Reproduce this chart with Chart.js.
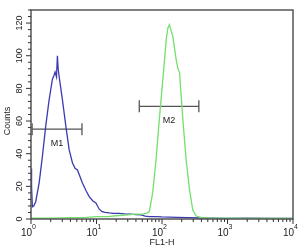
<!DOCTYPE html>
<html>
<head>
<meta charset="utf-8">
<script src="https://cdn.jsdelivr.net/npm/chart.js@4/dist/chart.umd.min.js"></script>
<style>
  html, body { margin: 0; padding: 0; background: #fff; }
  #wrap { width: 304px; height: 250px; position: relative; }
</style>
</head>
<body>
<div id="wrap"><canvas id="myChart"></canvas></div>
<script>
// blue histogram (control)
const blueX = [1.0, 1.02, 1.05, 1.1, 1.18, 1.33, 1.49, 1.68, 1.89, 2.12, 2.25, 2.33, 2.45, 2.53, 2.6, 2.68, 3.02, 3.4, 3.82, 4.29, 4.7, 5.12, 6.1, 7.0, 7.73, 8.8, 9.8, 11, 12.2, 13.5, 15.6, 18, 22, 27, 33, 40, 48, 55, 65, 80, 100, 130, 170, 250, 400, 600, 1000, 2000, 5000, 10000];
const blueY = [31, 20, 7.5, 8, 10.6, 22, 38, 57, 73, 85.5, 88, 90, 87, 100, 92, 87.6, 73, 57, 42.5, 34.5, 31, 30, 22, 17, 13.7, 11, 9.8, 6, 4.5, 4, 3.7, 3.5, 3.5, 3.2, 3, 2.7, 2.5, 1.8, 1.5, 1.5, 1.3, 1.2, 1, 0.8, 0.6, 0.5, 0.4, 0.5, 0.3, 0.3];

// green histogram (stained)
const greenX = [1, 2, 4, 7, 10, 15, 20, 30, 40, 50, 58, 64, 72, 81, 91, 103, 116, 123, 130, 138, 146, 155, 164, 175, 185, 208, 234, 263, 295, 332, 400, 600, 1000, 2000, 5000, 10000];
const greenY = [0.5, 0.5, 0.8, 1, 1.5, 1.5, 2, 2.5, 3, 3, 3.5, 4.5, 16, 36, 61, 85.5, 110, 117, 119, 115, 112, 105, 98, 92, 90, 61, 36, 18, 5.5, 1.8, 0.8, 0.5, 0.5, 0.4, 0.3, 0.3];

// gates
const markerNames = ["M1", "M2"];
const markerFrom = [1.04, 45];
const markerTo = [6.0, 365];
const markerLevel = [55, 69];

const xMajor = [1, 10, 100, 1000, 10000];
const yMajor = [0, 20, 40, 60, 80, 100, 120];

const pts = (xs, ys) => xs.map((x, i) => ({ x: x, y: ys[i] }));

const datasets = [
  { data: pts(greenX, greenY), borderColor: "#72e06c", borderWidth: 1.3, pointRadius: 0, tension: 0 },
  { data: pts(blueX, blueY), borderColor: "#3b3bb0", borderWidth: 1.3, pointRadius: 0, tension: 0 }
];
markerNames.forEach((n, i) => {
  datasets.push({
    data: [{ x: markerFrom[i], y: markerLevel[i] }, { x: markerTo[i], y: markerLevel[i] }],
    borderColor: "#555", borderWidth: 1.3,
    pointStyle: "line", pointRotation: 90, pointRadius: 6,
    pointBorderColor: "#555", pointBorderWidth: 1.3
  });
});

const frame = {
  id: "frame",
  afterDraw(chart) {
    const ctx = chart.ctx;
    const a = chart.chartArea;
    const xs = chart.scales.x, ys = chart.scales.y;
    ctx.save();
    ctx.strokeStyle = "#555";
    ctx.lineWidth = 1.5;
    ctx.strokeRect(a.left, a.top, a.right - a.left, a.bottom - a.top);

    ctx.lineWidth = 1;
    ctx.strokeStyle = "#333";
    ctx.beginPath();
    xs.ticks.forEach(t => {
      const p = xs.getPixelForValue(t.value);
      const major = xMajor.includes(t.value);
      ctx.moveTo(p, a.bottom);
      ctx.lineTo(p, a.bottom + (major ? 5 : 3));
    });
    ys.ticks.forEach(t => {
      const p = ys.getPixelForValue(t.value);
      const major = yMajor.includes(t.value);
      ctx.moveTo(a.left, p);
      ctx.lineTo(a.left - (major ? 5 : 3), p);
    });
    ctx.stroke();

    ctx.fillStyle = "#222";
    // y labels, rotated
    ctx.font = "9px 'Liberation Sans', Arial, sans-serif";
    ctx.textAlign = "center";
    ctx.textBaseline = "middle";
    yMajor.forEach(v => {
      const p = ys.getPixelForValue(v);
      ctx.save();
      ctx.translate(a.left - 11, p);
      ctx.rotate(-Math.PI / 2);
      ctx.fillText(String(v), 0, 0);
      ctx.restore();
    });
    // x labels 10^n
    xMajor.forEach((v, i) => {
      const p = xs.getPixelForValue(v);
      ctx.font = "10px 'Liberation Sans', Arial, sans-serif";
      ctx.textAlign = "right";
      ctx.textBaseline = "top";
      ctx.fillText("10", p + 1, a.bottom + 9);
      ctx.font = "7px 'Liberation Sans', Arial, sans-serif";
      ctx.textAlign = "left";
      ctx.fillText(String(i), p + 1, a.bottom + 5);
    });
    ctx.font = "9px 'Liberation Sans', Arial, sans-serif";
    ctx.textAlign = "center";
    ctx.fillText("FL1-H", (a.left + a.right) / 2, a.bottom + 19);
    ctx.save();
    ctx.translate(8, ys.getPixelForValue(60));
    ctx.rotate(-Math.PI / 2);
    ctx.textBaseline = "middle";
    ctx.fillText("Counts", 0, 0);
    ctx.restore();

    // gate labels
    ctx.font = "9px 'Liberation Sans', Arial, sans-serif";
    ctx.textBaseline = "middle";
    markerNames.forEach((n, i) => {
      const px = xs.getPixelForValue(Math.sqrt(markerFrom[i] * markerTo[i]));
      const py = ys.getPixelForValue(markerLevel[i]);
      ctx.fillText(n, px, py + 14);
    });
    ctx.restore();
  }
};

new Chart(document.getElementById("myChart"), {
  type: "line",
  data: { datasets: datasets },
  options: {
    responsive: true,
    maintainAspectRatio: false,
    animation: false,
    events: [],
    layout: { padding: { top: 10, right: 11, left: 0, bottom: 0 } },
    plugins: { legend: { display: false }, tooltip: { enabled: false } },
    scales: {
      x: {
        type: "logarithmic",
        min: 1, max: 10000,
        grid: { display: false },
        border: { display: false },
        ticks: { display: false },
        afterBuildTicks: s => {
          const t = [];
          for (let d = 1; d < 10000; d *= 10) {
            for (let k = 1; k < 10; k++) t.push({ value: d * k });
          }
          t.push({ value: 10000 });
          s.ticks = t;
        },
        afterFit: s => { s.height = 31; }
      },
      y: {
        min: 0, max: 128,
        grid: { display: false },
        border: { display: false },
        ticks: { display: false },
        afterBuildTicks: s => {
          const t = [];
          for (let v = 0; v <= 128; v += 4) t.push({ value: v });
          s.ticks = t;
        },
        afterFit: s => { s.width = 31; }
      }
    }
  },
  plugins: [frame]
});
</script>
</body>
</html>
